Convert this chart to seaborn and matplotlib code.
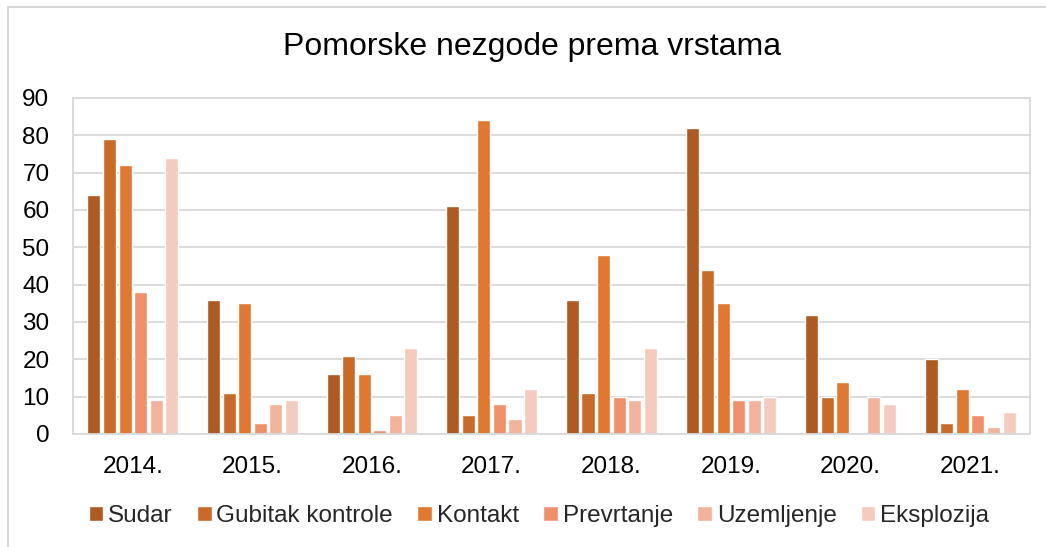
import numpy as np
import pandas as pd
import matplotlib
matplotlib.use("Agg")
import matplotlib.pyplot as plt
from matplotlib.patches import Rectangle
import seaborn as sns

years = ["2014.", "2015.", "2016.", "2017.", "2018.", "2019.", "2020.", "2021."]
series_names = ["Sudar", "Gubitak kontrole", "Kontakt", "Prevrtanje", "Uzemljenje", "Eksplozija"]
sudar = [64, 36, 16, 61, 36, 82, 32, 20]
gubitak = [79, 11, 21, 5, 11, 44, 10, 3]
kontakt = [72, 35, 16, 84, 48, 35, 14, 12]
prevrtanje = [38, 3, 1, 8, 10, 9, 0, 5]
uzemljenje = [9, 8, 5, 4, 9, 9, 10, 2]
eksplozija = [74, 9, 23, 12, 23, 10, 8, 6]
colors = ["#AE5A21", "#C96A28", "#E07830", "#F0906A", "#F3B39B", "#F6CBBF"]
yticks = [0, 10, 20, 30, 40, 50, 60, 70, 80, 90]

series_values = [sudar, gubitak, kontakt, prevrtanje, uzemljenje, eksplozija]
rows = []
for name, vals in zip(series_names, series_values):
    for y, v in zip(years, vals):
        rows.append({"Godina": y, "Vrsta": name, "Broj": v})
df = pd.DataFrame(rows)

sns.set_theme(style="white")
plt.rcParams["font.family"] = ["Liberation Sans", "DejaVu Sans"]

W, H = 1046, 547
fig = plt.figure(figsize=(W / 100, H / 100), dpi=100)
ax = fig.add_axes([73 / W, 1 - 434 / H, (1030 - 73) / W, (434 - 98) / H])

sns.barplot(data=df, x="Godina", y="Broj", hue="Vrsta", order=years,
            hue_order=series_names, palette=colors, saturation=1, width=0.78, gap=0.16,
            errorbar=None, ax=ax, legend=True)

ax.set_ylim(0, 90)
ax.set_yticks(yticks)
ax.set_xlim(-0.5, len(years) - 0.5)
ax.set_xlabel("")
ax.set_ylabel("")
ax.grid(axis="y", color="#D9D9D9", linewidth=1.3)
ax.set_axisbelow(True)
for s in ax.spines.values():
    s.set_visible(True)
    s.set_color("#D9D9D9")
    s.set_linewidth(1.3)
ax.tick_params(axis="y", length=0, pad=17, labelsize=17.5, labelcolor="black")
ax.tick_params(axis="x", length=0, pad=16, labelsize=17.5, labelcolor="black")

handles, labels = ax.get_legend_handles_labels()
ax.legend_.remove()
fig.legend(handles, labels, loc="center", bbox_to_anchor=(539 / W, 1 - 516 / H),
           ncol=6, frameon=False, fontsize=17.5, handlelength=0.6, handleheight=0.6,
           handletextpad=0.2, columnspacing=1.0)

fig.text(532 / W, 1 - 47 / H, "Pomorske nezgode prema vrstama", ha="center", va="center",
         fontsize=23, color="black")

fig.patches.append(Rectangle((8 / W, -0.02), 1.05, 1 - 7 / H + 0.02, transform=fig.transFigure,
                             fill=False, edgecolor="#D9D9D9", linewidth=1.5))

fig.savefig("out.png", dpi=100)
